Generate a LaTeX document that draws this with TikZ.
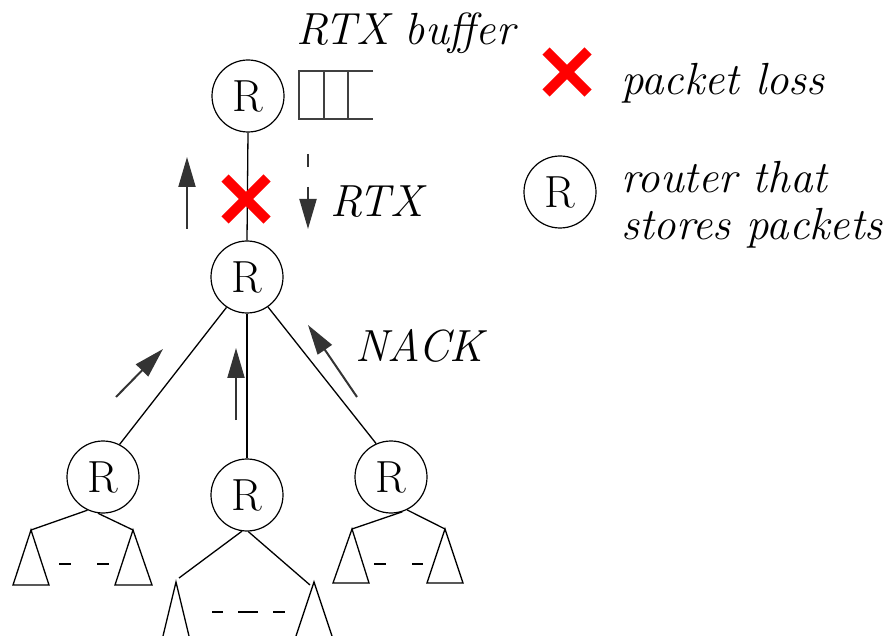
\documentclass[tikz,border=0pt]{standalone}
\usetikzlibrary{arrows.meta}
\begin{document}
\begin{tikzpicture}[x=1pt,y=-1pt,
  router/.style={circle,draw,line width=1.2pt,minimum size=72pt,inner sep=0pt,font=\fontsize{45}{52}\selectfont},
  lbl/.style={anchor=base west,inner sep=0pt,font=\fontsize{45}{52}\selectfont\itshape},
  link/.style={line width=1.3pt},
  msg/.style={line width=2pt,draw=black!80,-{Triangle[length=30pt,width=17pt]}},
  loss/.style={draw=red,line width=10pt,line cap=butt},
  buf/.style={line width=1.5pt,draw=black!75},
  tree/.style={line width=1.3pt,line join=miter}]
\useasboundingbox (0,0) rectangle (892,636);
% routers
\node[router] (r0) at (248,96) {R};
\node[router] (r1) at (247,277) {R};
\node[router] (rl) at (103,477) {R};
\node[router] (rm) at (247,495) {R};
\node[router] (rr) at (391,477) {R};
\node[router] (lg) at (560,192) {R};
% labels
\node[lbl] (tbuf) at (296,45) {RTX buffer};
\node[lbl] (trtx) at (330,217) {RTX};
\node[lbl] (tnack) at (355,362) {NACK};
\node[lbl] (tloss) at (621,95) {packet loss};
\node[lbl] (trt1) at (621,193) {router that};
\node[lbl] (trt2) at (621,240) {stores packets};
% buffer
\draw[buf] (373,71) -- (299,71) -- (299,119) -- (373,119);
\draw[buf] (324,71) -- (324,119) (348,71) -- (348,119);
% links
\draw[link] (r0.south) -- (r1.north);
\draw[link] (r1.236) -- (rl.63);
\draw[link] (r1.south) -- (rm.north);
\draw[link] (r1.305) -- (rr.114);
% loss marks
\coordinate (x1) at (246,199);
\draw[loss] (x1) ++(-21,-21) -- ++(42,42);
\draw[loss] (x1) ++(21,-21) -- ++(-42,42);
\coordinate (x2) at (567,72);
\draw[loss] (x2) ++(-21,-21) -- ++(42,42);
\draw[loss] (x2) ++(21,-21) -- ++(-42,42);
% message arrows
\coordinate (a1s) at (187,229); \coordinate (a1e) at (187,157);
\draw[msg] (a1s) -- (a1e);
\coordinate (d0) at (308,154); \coordinate (d1) at (308,167);
\draw[line width=2pt,draw=black!80] (d0) -- (d1);
\coordinate (a2s) at (308,187); \coordinate (a2e) at (308,229);
\draw[msg] (a2s) -- (a2e);
\coordinate (n1s) at (116,397); \coordinate (n1e) at (163,349);
\draw[msg] (n1s) -- (n1e);
\coordinate (n2s) at (236,420); \coordinate (n2e) at (236,348);
\draw[msg] (n2s) -- (n2e);
\coordinate (n3s) at (357,397); \coordinate (n3e) at (308,325);
\draw[msg] (n3s) -- (n3e);
% subtrees: left router
\coordinate (tl1) at (31,530); \coordinate (tl2) at (133,530);
\draw[tree] (rl.245) -- (tl1);
\draw[tree] (rl.262) -- (tl2);
\draw[tree] (tl1) -- (13,585) -- (49,585) -- cycle;
\draw[tree] (tl2) -- (115,585) -- (152,585) -- cycle;
\draw[tree] (59,564) -- (71,564) (97,564) -- (109,564);
% middle router
\coordinate (tm1) at (179,578); \coordinate (tm2) at (310,585);
\draw[tree] (rm.262) -- (tm1);
\draw[tree] (rm.272) -- (tm2);
\coordinate (am1) at (176,582); \coordinate (am2) at (314,582);
\draw[tree] (163,636) -- (am1) -- (189,636);
\draw[tree] (296,636) -- (am2) -- (332,636);
\draw[tree] (212,612) -- (223,612) (238,612) -- (258,612) (273,612) -- (285,612);
% right router
\coordinate (tr1) at (352,529); \coordinate (tr2) at (445,529);
\draw[tree] (rr.288) -- (tr1);
\draw[tree] (rr.296) -- (tr2);
\draw[tree] (tr1) -- (333,583) -- (369,583) -- cycle;
\draw[tree] (tr2) -- (427,583) -- (463,583) -- cycle;
\draw[tree] (374,564) -- (386,564) (412,564) -- (423,564);
\end{tikzpicture}
\end{document}
